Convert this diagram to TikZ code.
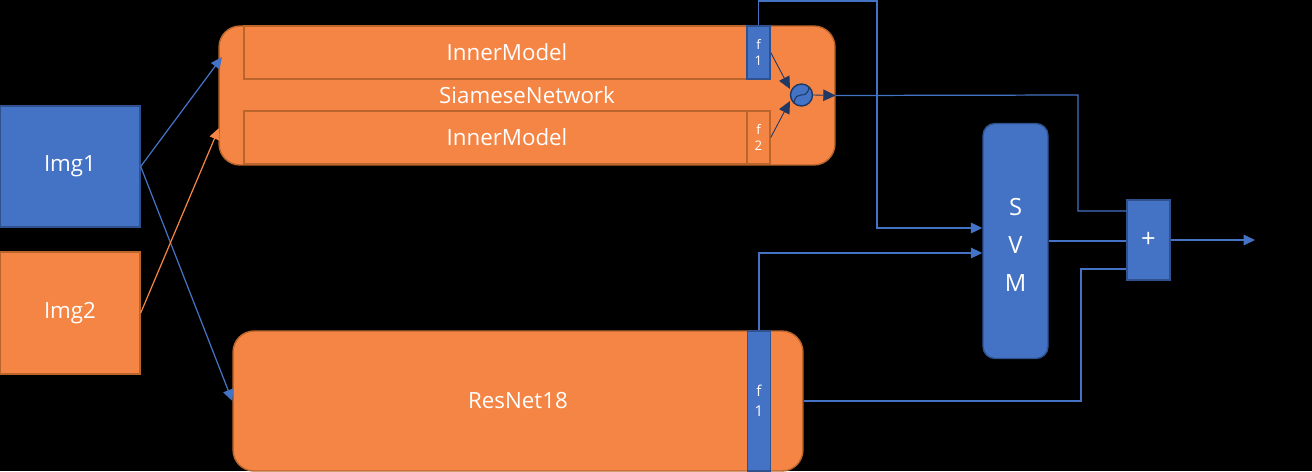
\documentclass[tikz,border=0pt]{standalone}
\usepackage{fontspec}
\setmainfont{Open Sans}
\usetikzlibrary{arrows.meta}
\definecolor{boxorange}{HTML}{F58544}
\definecolor{edgeorange}{HTML}{B9652C}
\definecolor{boxblue}{HTML}{4472C4}
\definecolor{edgeblue}{HTML}{2F528F}
\definecolor{tipnavy}{HTML}{203864}
\tikzset{
  orangebox/.style={draw=edgeorange, fill=boxorange, line width=.8pt, inner sep=0pt, text=white, font=\fontsize{12.7}{14}\selectfont},
  bluebox/.style={draw=edgeblue, fill=boxblue, line width=.8pt, inner sep=0pt, text=white, font=\fontsize{12.7}{14}\selectfont},
  featbox/.style={minimum width=.46cm, align=center, font=\fontsize{7.5}{9}\selectfont},
  wire/.style={draw=boxblue, line width=.7pt},
  wirearrow/.style={wire, -{Triangle[length=6.5pt, width=6pt]}},
  navyarrow/.style={draw=tipnavy, line width=.5pt, -{Triangle[length=7pt, width=6.5pt]}},
}
\begin{document}
\begin{tikzpicture}[x=.02cm, y=-.02cm]
  \useasboundingbox[fill=black] (0,0) rectangle (1312,471);

  \node[bluebox, minimum width=2.8cm, minimum height=2.42cm] (img1) at (70,166.5) {\raisebox{-1.2pt}{Img1}};
  \node[orangebox, minimum width=2.8cm, minimum height=2.44cm] (img2) at (70,313) {\raisebox{-1.5pt}{Img2}};

  \node[orangebox, rounded corners=.42cm, minimum width=12.32cm, minimum height=2.78cm] (siamese) at (527,95.5) {SiameseNetwork};
  \node[orangebox, minimum width=10.52cm, minimum height=1.06cm] (inner1) at (507,52.5) {InnerModel};
  \node[orangebox, minimum width=10.52cm, minimum height=1.06cm] (inner2) at (507,137.5) {InnerModel};
  \node[bluebox, featbox, minimum height=1.06cm] (f1top) at (758.5,52.5) {f\\1};
  \node[orangebox, featbox, minimum height=1.06cm] (f2) at (758.5,137.5) {f\\2};
  \node[bluebox, circle, minimum size=.44cm, draw=tipnavy] (wave) at (801.5,95) {};
  \draw[tipnavy, line width=.6pt] (794,103) .. controls (795,96) and (798,95) .. (801,95) .. controls (805,95) and (808,94) .. (809,87);

  \node[orangebox, rounded corners=.42cm, minimum width=11.4cm, minimum height=2.8cm] (resnet) at (518,401) {\raisebox{-.6pt}{ResNet18}};
  \node[bluebox, featbox, minimum height=2.8cm, font=\fontsize{8.5}{11.4}\selectfont] (f1low) at (759,401) {f\\1};

  \node[bluebox, rounded corners=.24cm, minimum width=1.3cm, minimum height=4.7cm, align=center, font=\fontsize{13.5}{21.6}\selectfont] (svm) at (1015.5,241) {\rule{0pt}{14pt}S\\V\\M};
  \node[bluebox, minimum width=.86cm, minimum height=1.6cm, font=\fontsize{14.5}{14}\selectfont] (plus) at (1148.5,240) {\raisebox{-1pt}{+}};
  \coordinate (out) at (1255,240);

  \draw[wirearrow] (img1.east) -- (222,57);
  \draw[wirearrow] (img1.east) -- (resnet.west);
  \draw[wirearrow, draw=boxorange] (img2.east) -- (219,128);

  \draw[navyarrow] (f1top.east) -- (790,89);
  \draw[navyarrow] (f2.east) -- (790,101);
  \draw[navyarrow] (wave.east) -- (siamese.east);

  \draw[wire] (siamese.east) -- (1078,95) |- (plus.west |- 0,211);
  \draw[wirearrow, line width=.95pt] (f1top.north) |- (877,1) -- (877,228) -- (svm.west |- 0,228);
  \draw[wirearrow] (f1low.north) |- (svm.west |- 0,253);
  \draw[wire] (resnet.east) -- (1081,401) |- (plus.west |- 0,269);
  \draw[wire] (svm.east) -- (plus.west |- svm.east);
  \draw[wirearrow] (plus.east) -- (out);
\end{tikzpicture}
\end{document}
